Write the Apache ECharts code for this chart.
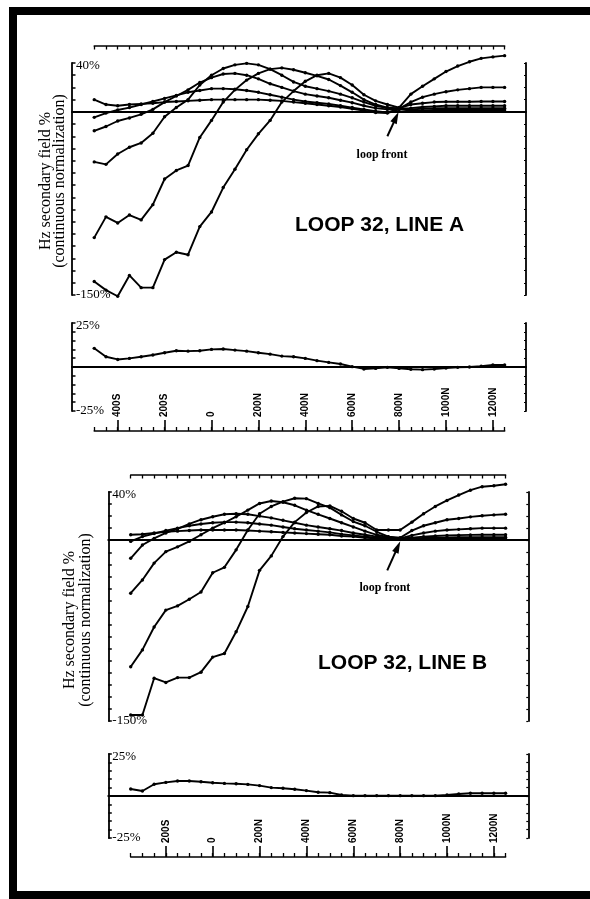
<!DOCTYPE html>
<html><head><meta charset="utf-8">
<script src="https://cdn.jsdelivr.net/npm/echarts@6/dist/echarts.min.js"></script>
<style>html,body{margin:0;padding:0;background:#fff}#c{width:590px;height:899px}</style>
</head><body><div id="c"></div>
<script>
// ---------- DATA ----------
const stationsA = [-500,-450,-400,-350,-300,-250,-200,-150,-100,-50,0,50,100,150,200,250,300,350,400,450,500,550,600,650,700,750,800,850,900,950,1000,1050,1100,1150,1200,1250];
const lineA1 = [-139,-146,-151,-134,-144,-144,-121,-115,-117,-94,-82,-62,-47,-31,-18,-7,8,17,25,30,31.5,28,22,14,9,6,3.5,14.5,21,27,33,37.5,41,43.8,45,46];
const lineA2 = [-103,-86,-91,-84.5,-88.5,-76,-55,-48,-44,-21,-7,8,18,26,31.5,35,36,34.5,32,29.5,26.5,21.5,16,10,6,3.5,2.5,8,12,14.5,16.5,18,19,20,20,20];
const lineA3 = [-41,-43,-34.5,-29,-25.5,-17.5,-4,3.5,10,22,30,35.5,38.5,39.7,38.5,35,30,24.5,21,19,17,14.5,11.5,8,5,3,3,6,7,8,8.3,8.3,8.3,8.5,8.5,8.5];
const lineA4 = [-15.5,-12,-7.5,-5,-2,2,8,13,18,24,28,31,31.5,30,27,23,20,17,14.5,13,11.5,9.5,7.5,5,3,2,2.5,3,4,4.5,5,5,5,5,5,5];
const lineA5 = [-4.5,-1,1.5,3.5,6,8.5,11,13.5,16,17.5,19,19,18.5,17.5,16,14,12,10,8.5,7.5,6.5,5,3.5,2,0.5,-0.5,2.5,2,2.5,3,3,3,3,3,3,3];
const lineA6 = [10,6,5,6,6.5,7,8,8.5,9,9.5,10,10,10,10,10,9.5,9,8,7,6,5,4,2.5,1,-0.5,-1,2,1,1.2,1.5,1.5,1.5,1.5,1.5,1.5,1.5];
const subA   = [10.6,5.8,4.3,4.9,5.8,6.8,8.1,9.2,9,9.2,10,10.2,9.6,9,8.1,7.3,6.2,5.8,4.9,3.6,2.6,1.7,0.2,-1.1,-0.8,-0.2,-0.8,-1.3,-1.5,-1.1,-0.6,-0.2,0,0.4,1.1,1.1];

const stationsB = [-350,-300,-250,-200,-150,-100,-50,0,50,100,150,200,250,300,350,400,450,500,550,600,650,700,750,800,850,900,950,1000,1050,1100,1150,1200,1250];
const lineB1 = [-145,-145,-114.5,-118,-114,-114,-109.5,-97,-94,-76,-55,-25,-13,3,15,23,28,28.5,24,18,14.5,8.5,8.5,8.5,15,22,28,33,37.5,41.5,44.4,45.2,46.4];
const lineB2 = [-105,-91,-72,-58,-54.5,-49,-43,-27,-22.5,-8,8.5,22,28,32,34.8,34.5,30.5,27,21,15.5,12,7,3,2,8,12,14.5,17,18,19.4,20.3,21,21.5];
const lineB3 = [-44,-33,-19,-9.5,-5.5,-1,4.5,10,14.5,19.5,25,30.5,32.5,31.5,29,25,21.5,18,14.5,11,7.5,4.5,2.5,1.5,4,6,7.5,8.5,9,9.5,10,10,10];
const lineB4 = [-15,-4,1.5,6,9.5,13.5,17,19.5,21.5,22,21.5,20,18.5,16.5,14.5,12.5,11,9.5,8,6,4.5,3,2,1.5,2,3,3.5,4,4.2,4.4,4.5,4.5,4.5];
const lineB5 = [-1,3,5.5,8,10,12,13.5,14.5,15,15,14.5,13.5,12.5,11,9.5,8.5,7.5,6.5,5,4,3,2,1.2,1,1.2,1.8,2,2.2,2.4,2.5,2.5,2.5,2.5];
const lineB6 = [4.5,5,6,7,7.5,8,8.5,8.5,8.5,8.5,8,7.5,7,6.5,6,5.5,5,4.5,3.5,3,2,1.5,1,0.8,0.8,1,1,1,1,1,1,1,1];
const subB   = [4.2,3,7,8.1,8.9,8.9,8.5,7.9,7.5,7.3,6.9,6.2,5,4.6,4,3.2,2.2,2,0.6,0.2,0.2,0.2,0.2,0.2,0.2,0.2,0.2,0.6,1.2,1.6,1.6,1.6,1.6];

const tickStationsA = [-400,-200,0,200,400,600,800,1000,1200];
const tickLabelsA   = ['400S','200S','0','200N','400N','600N','800N','1000N','1200N'];
const tickStationsB = [-200,0,200,400,600,800,1000,1200];
const tickLabelsB   = ['200S','0','200N','400N','600N','800N','1000N','1200N'];

const yTitleLines = ['Hz secondary field %', '(continuous normalization)'];
const titleA = 'LOOP 32, LINE A';
const titleB = 'LOOP 32, LINE B';
const noteText = 'loop front';
const mainRange = [-150, 40];
const subRange = [-25, 25];

// ---------- LAYOUT ----------
const L = {
  A: { x0: 211.5, k: 0.2345, left: 72, right: 526, mainTop: 63, mainH: 232, subTop: 323, subH: 88, topAxis: 46, botAxis: 430, first: -500, last: 1250,
       arrow: [[750,-20],[787,-4.5]], note: [727,-35.5], title: {left: 295, top: 215}, ytitle: [46, 60, 181] },
  B: { x0: 212.7, k: 0.2343, left: 108.3, right: 528.3, mainTop: 492, mainH: 229, subTop: 754, subH: 84, topAxis: 475, botAxis: 856, first: -350, last: 1250,
       arrow: [[745,-25],[790,-5.5]], note: [735,-39.5], title: {left: 318, top: 653}, ytitle: [70, 86, 620] }
};
const serif = 'Liberation Serif';
const sans = 'Liberation Sans';

const grid = [], xAxis = [], yAxis = [], series = [];

function pct(v){ return v + '%'; }

function addPanel(P, stations, lines, sub, tickSt, tickLb) {
  const xmin = (P.left - P.x0) / P.k, xmax = (P.right - P.x0) / P.k;
  const w = P.right - P.left;
  const gMain = grid.length;
  grid.push({ left: P.left, top: P.mainTop, width: w, height: P.mainH });
  const gSub = grid.length;
  grid.push({ left: P.left, top: P.subTop, width: w, height: P.subH });
  const tl = P.x0 + P.k * P.first, tw = P.k * (P.last - P.first);
  const gTop = grid.length;
  grid.push({ left: tl, top: P.topAxis, width: tw, height: 1 });
  const gBot = grid.length;
  grid.push({ left: tl, top: P.botAxis, width: tw, height: 1 });

  const blk = '#000';
  [[gMain, mainRange, 10], [gSub, subRange, 5]].forEach(([g, r, iv]) => {
    xAxis.push({ gridIndex: g, type: 'value', min: xmin, max: xmax, axisLine: { show: true, onZero: true, lineStyle: { color: blk, width: 2 } },
      axisTick: { show: false }, axisLabel: { show: false }, splitLine: { show: false } });
    const lo = r[0], hi = r[1];
    yAxis.push({ gridIndex: g, type: 'value', position: 'left', min: lo, max: hi, interval: iv,
      axisLine: { show: true, onZero: false, lineStyle: { color: blk, width: 1.8 } },
      axisTick: { show: true, inside: true, length: 3.5, lineStyle: { color: blk, width: 1.5 } },
      axisLabel: { show: true, inside: true, margin: 4, color: blk, fontFamily: serif, fontSize: 13,
        formatter: v => v === hi ? '{hi|' + pct(v) + '}' : (v === lo ? pct(v) : ''),
        rich: { hi: { fontFamily: serif, fontSize: 13, color: blk, padding: [6, 0, 0, 0] } } },
      splitLine: { show: false } });
    yAxis.push({ gridIndex: g, type: 'value', position: 'right', min: lo, max: hi, interval: iv,
      axisLine: { show: true, onZero: false, lineStyle: { color: blk, width: 1.8 } },
      axisTick: { show: true, inside: true, length: 2, lineStyle: { color: blk, width: 1.2 } },
      axisLabel: { show: false }, splitLine: { show: false } });
  });
  xAxis.push({ gridIndex: gTop, type: 'value', position: 'top', min: P.first, max: P.last, interval: 50,
    axisLine: { show: true, onZero: false, lineStyle: { color: blk, width: 1.6 } },
    axisTick: { show: true, inside: true, length: 3.5, lineStyle: { color: blk, width: 1.3 } },
    axisLabel: { show: false }, splitLine: { show: false } });
  yAxis.push({ gridIndex: gTop, show: false, min: 0, max: 1 });
  xAxis.push({ gridIndex: gBot, type: 'value', position: 'bottom', min: P.first, max: P.last, interval: 50,
    axisLine: { show: true, onZero: false, lineStyle: { color: blk, width: 1.6 } },
    axisTick: { show: true, inside: true, length: 4, lineStyle: { color: blk, width: 1.3 } },
    axisLabel: { show: false }, splitLine: { show: false } });
  xAxis.push({ gridIndex: gBot, type: 'value', position: 'bottom', min: P.first, max: P.last,
    axisLine: { show: false, onZero: false },
    axisTick: { show: true, inside: true, length: 11, customValues: tickSt, lineStyle: { color: blk, width: 1.6 } },
    axisLabel: { show: true, inside: true, rotate: 90, margin: 14, customValues: tickSt, color: blk,
      fontFamily: sans, fontWeight: 'bold', fontSize: 10,
      formatter: v => { const i = tickSt.indexOf(v); return i >= 0 ? tickLb[i] : ''; } },
    splitLine: { show: false } });
  yAxis.push({ gridIndex: gBot, show: false, min: 0, max: 1 });

  const xiMain = xAxis.findIndex(a => a.gridIndex === gMain);
  const xiSub = xAxis.findIndex(a => a.gridIndex === gSub);
  const yiMain = yAxis.findIndex(a => a.gridIndex === gMain);
  const yiSub = yAxis.findIndex(a => a.gridIndex === gSub);

  const style = { type: 'line', symbol: 'circle', symbolSize: 3.4, showSymbol: true, clip: false, animation: false,
    lineStyle: { color: blk, width: 1.9 }, itemStyle: { color: blk }, z: 3 };
  lines.forEach((vals, i) => {
    const s = Object.assign({}, style, { xAxisIndex: xiMain, yAxisIndex: yiMain, data: stations.map((st, j) => [st, vals[j]]) });
    if (i === lines.length - 1) {
      s.markLine = { silent: true, symbol: ['none', 'triangle'], symbolSize: [7, 12], animation: false,
        lineStyle: { color: blk, width: 2, type: 'solid' }, label: { show: false },
        data: [[{ coord: P.arrow[0] }, { coord: P.arrow[1] }]] };
      s.markPoint = { silent: true, symbol: 'circle', symbolSize: 0, animation: false,
        label: { show: true, position: 'inside', formatter: noteText, color: blk, fontFamily: serif, fontWeight: 'bold', fontSize: 12 },
        data: [{ coord: P.note }] };
    }
    series.push(s);
  });
  series.push(Object.assign({}, style, { xAxisIndex: xiSub, yAxisIndex: yiSub, data: stations.map((st, j) => [st, sub[j]]) }));
}

addPanel(L.A, stationsA, [lineA1, lineA2, lineA3, lineA4, lineA5, lineA6], subA, tickStationsA, tickLabelsA);
addPanel(L.B, stationsB, [lineB1, lineB2, lineB3, lineB4, lineB5, lineB6], subB, tickStationsB, tickLabelsB);

const graphic = [
  { type: 'rect', shape: { x: 13, y: 11, width: 640, height: 884 }, style: { fill: 'none', stroke: '#000', lineWidth: 8 }, z: 10 }
];
[L.A, L.B].forEach(P => {
  graphic.push({ type: 'text', x: P.ytitle[0], y: P.ytitle[2], rotation: Math.PI / 2,
    style: { text: yTitleLines[0], font: '16px "Liberation Serif"', fill: '#000', textAlign: 'center', textVerticalAlign: 'middle' } });
  graphic.push({ type: 'text', x: P.ytitle[1], y: P.ytitle[2], rotation: Math.PI / 2,
    style: { text: yTitleLines[1], font: '16px "Liberation Serif"', fill: '#000', textAlign: 'center', textVerticalAlign: 'middle' } });
});

const chart = echarts.init(document.getElementById('c'), null, { renderer: 'canvas' });
chart.setOption({
  backgroundColor: '#fff',
  animation: false,
  title: [
    { text: titleA, left: L.A.title.left, top: L.A.title.top, padding: 0, textStyle: { fontFamily: sans, fontWeight: 'bold', fontSize: 21, color: '#000' } },
    { text: titleB, left: L.B.title.left, top: L.B.title.top, padding: 0, textStyle: { fontFamily: sans, fontWeight: 'bold', fontSize: 21, color: '#000' } }
  ],
  grid, xAxis, yAxis, series, graphic
});
</script></body></html>
